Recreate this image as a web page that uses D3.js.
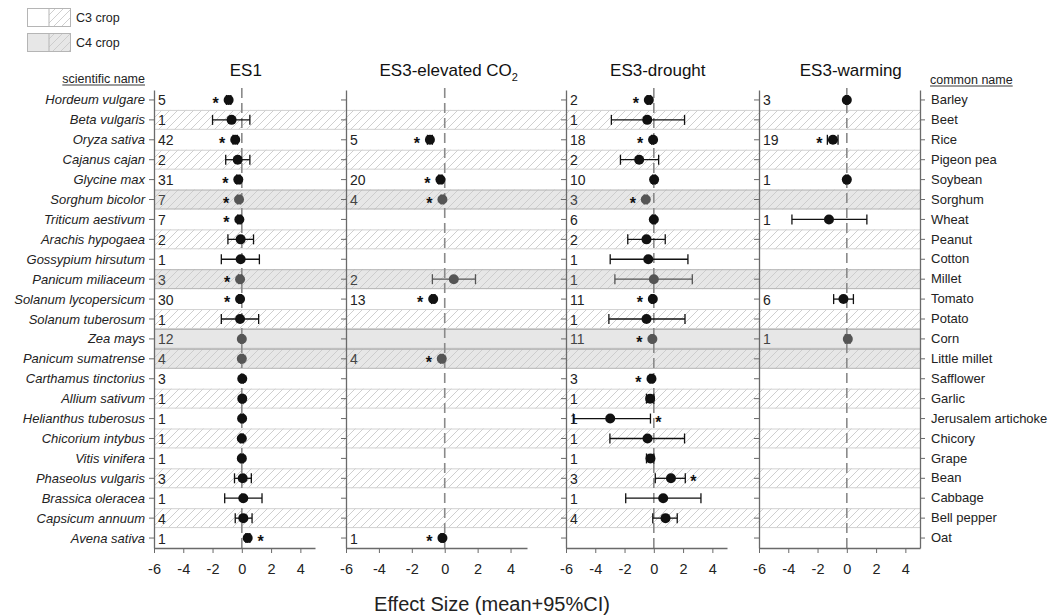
<!DOCTYPE html>
<html><head><meta charset="utf-8">
<script src="https://cdn.jsdelivr.net/npm/d3@7"></script>
<style>
html,body{margin:0;padding:0;background:#fff;}
svg{display:block;font-family:"Liberation Sans",Arial,sans-serif;}
</style></head>
<body><svg id="chart" width="1053" height="616"></svg>
<script>
// ---------- DATA ----------
const sciNames = ["Hordeum vulgare","Beta vulgaris","Oryza sativa","Cajanus cajan","Glycine max","Sorghum bicolor","Triticum aestivum","Arachis hypogaea","Gossypium hirsutum","Panicum miliaceum","Solanum lycopersicum","Solanum tuberosum","Zea mays","Panicum sumatrense","Carthamus tinctorius","Allium sativum","Helianthus tuberosus","Chicorium intybus","Vitis vinifera","Phaseolus vulgaris","Brassica oleracea","Capsicum annuum","Avena sativa"];
const commonNames = ["Barley","Beet","Rice","Pigeon pea","Soybean","Sorghum","Wheat","Peanut","Cotton","Millet","Tomato","Potato","Corn","Little millet","Safflower","Garlic","Jerusalem artichoke","Chicory","Grape","Bean","Cabbage","Bell pepper","Oat"];
const cropType = ["C3","C3","C3","C3","C3","C4","C3","C3","C3","C4","C3","C3","C4","C4","C3","C3","C3","C3","C3","C3","C3","C3","C3"];
const panelTitles = ["ES1","ES3-elevated CO","ES3-drought","ES3-warming"];
const xTicks = [-6,-4,-2,0,2,4];
const legendLabels = ["C3 crop","C4 crop"];
// each row: [n, mean, lower95, upper95, significance-star side] ; null = no data
const es1 = [
 [5,-0.9,-1.05,-0.75,"L"],[1,-0.7,-2.0,0.55,null],[42,-0.45,-0.6,-0.3,"L"],[2,-0.28,-1.1,0.55,null],
 [31,-0.24,-0.35,-0.12,"L"],[7,-0.19,-0.3,-0.08,"L"],[7,-0.17,-0.28,-0.06,"L"],[2,-0.08,-0.95,0.8,null],
 [1,-0.08,-1.4,1.2,null],[3,-0.12,-0.22,-0.02,"L"],[30,-0.12,-0.2,-0.04,"L"],[1,-0.12,-1.4,1.15,null],
 [12,0,-0.08,0.08,null],[4,0,-0.08,0.08,null],[3,0.03,-0.05,0.1,null],[1,0.03,-0.05,0.1,null],
 [1,0.02,-0.06,0.1,null],[1,0,-0.1,0.1,null],[1,0,-0.1,0.1,null],[3,0.06,-0.5,0.65,null],
 [1,0.1,-1.17,1.38,null],[4,0.1,-0.45,0.7,null],[1,0.4,0.28,0.55,"R"]
];
const es3co2 = [
 null,null,[5,-0.9,-1.05,-0.75,"L"],null,[20,-0.26,-0.36,-0.16,"L"],[4,-0.14,-0.22,-0.06,"L"],null,null,
 null,[2,0.55,-0.75,1.87,null],[13,-0.7,-0.8,-0.6,"L"],null,null,[4,-0.18,-0.26,-0.1,"L"],null,null,
 null,null,null,null,null,null,[1,-0.14,-0.22,-0.06,"L"]
];
const es3drought = [
 [2,-0.34,-0.45,-0.22,"L"],[1,-0.45,-2.9,2.1,null],[18,-0.05,-0.15,-0.02,"L"],[2,-1.0,-2.28,0.33,null],
 [10,0.02,-0.08,0.1,null],[3,-0.55,-0.65,-0.45,"L"],[6,0,-0.1,0.1,null],[2,-0.5,-1.78,0.78,null],
 [1,-0.38,-2.98,2.33,null],[1,0,-2.66,2.63,null],[11,-0.07,-0.17,-0.02,"L"],[1,-0.5,-3.07,2.13,null],
 [11,-0.1,-0.18,-0.03,"L"],null,[3,-0.16,-0.26,-0.06,"L"],[1,-0.25,-0.5,0.0,null],
 [1,-2.98,-5.5,-0.23,"R"],[1,-0.43,-3.0,2.1,null],[1,-0.23,-0.5,0.0,null],[3,1.17,0.1,2.15,"R"],
 [1,0.64,-1.92,3.22,null],[4,0.8,-0.07,1.6,null],null
];
const es3warming = [
 [3,0,-0.08,0.08,null],null,[19,-0.95,-1.33,-0.6,"L"],null,[1,0,-0.08,0.08,null],null,[1,-1.22,-3.75,1.37,null],null,
 null,null,[6,-0.23,-0.9,0.45,null],null,[1,0.07,-0.1,0.22,null],null,null,null,
 null,null,null,null,null,null,null
];
const panelData = [es1, es3co2, es3drought, es3warming];

// ---------- LAYOUT ----------
const svg = d3.select("#chart");
const yTop = 90, yBottom = 548;
const panelRanges = [[154,315],[346,527],[566,727],[759,920]];
const rightAxisX = 920;
const y = d3.scaleBand().domain(d3.range(sciNames.length)).range([yTop, yBottom]);
const yc = i => y(i) + y.bandwidth()/2;

const defs = svg.append("defs");
const pat = defs.append("pattern").attr("id","hatch").attr("patternUnits","userSpaceOnUse")
  .attr("width",8).attr("height",8);
pat.append("path").attr("d","M-2,2 L2,-2 M0,8 L8,0 M6,10 L10,6")
  .attr("stroke","#c9c9c9").attr("stroke-width",0.9).attr("fill","none");

// ---------- ROW BANDS ----------
const bandX0 = panelRanges[0][0], bandX1 = rightAxisX;
const bands = svg.append("g");
sciNames.forEach((n,i)=>{
  const c4 = cropType[i]==="C4";
  const hatched = i%2===1;
  if(!c4 && !hatched) return;
  const yy = y(i), h = y.bandwidth();
  if(c4) bands.append("rect").attr("x",bandX0).attr("y",yy).attr("width",bandX1-bandX0).attr("height",h).attr("fill","#e7e7e7");
  if(hatched) bands.append("rect").attr("x",bandX0).attr("y",yy).attr("width",bandX1-bandX0).attr("height",h).attr("fill","url(#hatch)");
  const bc = c4 ? "#b5b5b5" : "#d2d2d2";
  bands.append("line").attr("x1",bandX0).attr("x2",bandX1).attr("y1",yy+0.5).attr("y2",yy+0.5).attr("stroke",bc);
  bands.append("line").attr("x1",bandX0).attr("x2",bandX1).attr("y1",yy+h-0.5).attr("y2",yy+h-0.5).attr("stroke",bc);
});

// ---------- PANELS ----------
panelData.forEach((data,p)=>{
  const x = d3.scaleLinear().domain([-6,5]).range(panelRanges[p]);
  const g = svg.append("g");
  g.append("line").attr("x1",x(0)).attr("x2",x(0)).attr("y1",yTop-2).attr("y2",yBottom)
   .attr("stroke","#8a8a8a").attr("stroke-width",1.6).attr("stroke-dasharray","10,5");
  const ya = g.append("g").attr("transform",`translate(${panelRanges[p][0]},0)`)
    .call(d3.axisLeft(y).tickFormat("").tickSize(5).tickSizeOuter(0));
  ya.select(".domain").attr("stroke","#6a6a6a").attr("stroke-width",1.3);
  ya.selectAll(".tick line").attr("stroke","#6a6a6a");
  const xa = g.append("g").attr("transform",`translate(0,${yBottom})`)
    .call(d3.axisBottom(x).tickValues(xTicks).tickFormat(d3.format("d")).tickSize(5).tickSizeOuter(0));
  xa.select(".domain").attr("stroke","#6a6a6a").attr("stroke-width",1.3);
  xa.selectAll(".tick line").attr("stroke","#6a6a6a");
  xa.selectAll(".tick text").attr("font-size",14.5).attr("fill","#222").attr("dy","1.22em")
    .attr("font-family","'Liberation Sans',Arial,sans-serif").text(d=> d<0 ? "-"+Math.abs(d) : d);
  const t = g.append("text").attr("x",x(0)+4).attr("y",76).attr("text-anchor","middle")
    .attr("font-size",17).attr("fill","#111").text(panelTitles[p]);
  if(p===1){ t.append("tspan").attr("font-size",11).attr("dy",5).text("2"); }
  data.forEach((d,i)=>{
    if(!d) return;
    const [n,m,lo,hi,star] = d;
    const cy = yc(i);
    const col = cropType[i]==="C4" ? "#555" : "#111";
    g.append("text").attr("x",panelRanges[p][0]+4).attr("y",cy+5.5).attr("font-size",14)
      .attr("fill",cropType[i]==="C4" ? "#444" : "#222").text(n);
    g.append("line").attr("x1",x(lo)).attr("x2",x(hi)).attr("y1",cy).attr("y2",cy).attr("stroke",col).attr("stroke-width",1.3);
    [lo,hi].forEach(v=> g.append("line").attr("x1",x(v)).attr("x2",x(v)).attr("y1",cy-5).attr("y2",cy+5).attr("stroke",col).attr("stroke-width",1.3));
    g.append("circle").attr("cx",x(m)).attr("cy",cy).attr("r",5).attr("fill",col);
    if(star){
      const sx = star==="L" ? Math.min(x(lo), x(m)-5) - 8 : Math.max(x(hi), x(m)+5) + 8;
      g.append("text").attr("x",sx).attr("y",cy+9).attr("text-anchor","middle").attr("font-size",16)
        .attr("font-weight","bold").attr("fill","#111").text("*");
    }
  });
});

// ---------- ROW NAMES ----------
const names = svg.append("g");
sciNames.forEach((s,i)=>{
  names.append("text").attr("x",145).attr("y",yc(i)+4.5).attr("text-anchor","end")
    .attr("font-size",13).attr("font-style","italic").attr("fill","#222").text(s);
});
const ra = svg.append("g").attr("transform",`translate(${rightAxisX},0)`)
  .call(d3.axisRight(y).tickFormat(i=>commonNames[i]).tickSize(5).tickSizeOuter(0));
ra.select(".domain").attr("stroke","#6a6a6a").attr("stroke-width",1.3);
ra.selectAll(".tick line").attr("stroke","#6a6a6a");
ra.selectAll(".tick text").attr("font-size",13).attr("fill","#222").attr("x",11)
  .attr("font-family","'Liberation Sans',Arial,sans-serif");

function underlined(x, yb, txt, anchor){
  const t = svg.append("text").attr("x",x).attr("y",yb).attr("text-anchor",anchor)
    .attr("font-size",12.5).attr("fill","#222").text(txt);
  const w = t.node().getComputedTextLength();
  const x0 = anchor==="end" ? x-w : x;
  svg.append("line").attr("x1",x0).attr("x2",x0+w).attr("y1",yb+2).attr("y2",yb+2).attr("stroke","#222").attr("stroke-width",0.9);
}
underlined(145, 83, "scientific name", "end");
underlined(930, 84, "common name", "start");

// ---------- LEGEND ----------
legendLabels.forEach((lab,k)=>{
  const ly = 8 + k*25;
  if(k===1){
    svg.append("rect").attr("x",27).attr("y",ly).attr("width",44).attr("height",19).attr("fill","#e7e7e7");
  }
  svg.append("rect").attr("x",49).attr("y",ly).attr("width",22).attr("height",19).attr("fill","url(#hatch)");
  svg.append("rect").attr("x",27.5).attr("y",ly+0.5).attr("width",43).attr("height",18).attr("fill","none").attr("stroke","#b5b5b5");
  svg.append("line").attr("x1",49).attr("x2",49).attr("y1",ly).attr("y2",ly+19).attr("stroke","#b5b5b5");
  svg.append("text").attr("x",76).attr("y",ly+14).attr("font-size",12.5).attr("fill","#222").text(lab);
});

// ---------- X TITLE ----------
svg.append("text").attr("x",492).attr("y",611).attr("text-anchor","middle").attr("font-size",20)
  .attr("fill","#222").text("Effect Size (mean+95%CI)");
</script>
</body></html>
